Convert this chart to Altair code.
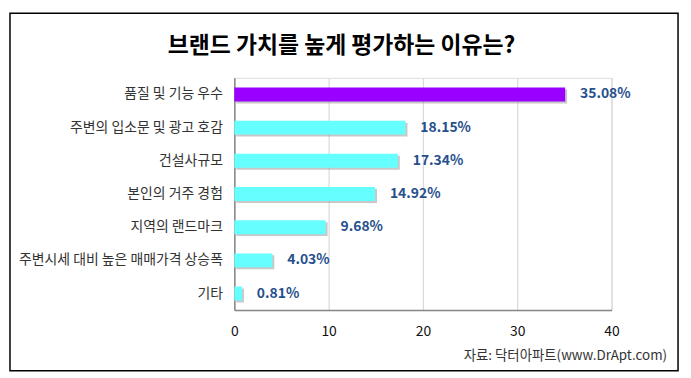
import altair as alt
import pandas as pd

categories = ["품질 및 기능 우수", "주변의 입소문 및 광고 호감", "건설사규모", "본인의 거주 경험",
              "지역의 랜드마크", "주변시세 대비 높은 매매가격 상승폭", "기타"]
values = [35.08, 18.15, 17.34, 14.92, 9.68, 4.03, 0.81]
highlight = [True, False, False, False, False, False, False]
title_text = "브랜드 가치를 높게 평가하는 이유는?"
source_text = "자료: 닥터아파트(www.DrApt.com)"

df = pd.DataFrame({"cat": categories, "val": values, "hl": highlight})
df["label"] = df["val"].map(lambda v: f"{v:.2f}%")

FONT = "Noto Sans CJK KR"
W, H = 380, 234

y_enc = alt.Y("cat:N", sort=categories, title=None,
              scale=alt.Scale(paddingInner=0.58, paddingOuter=0.29),
              axis=alt.Axis(labelFont=FONT, labelFontSize=14, labelColor="#333333",
                            labelPadding=12, labelLimit=0, ticks=False,
                            domainColor="#888888", domainWidth=1.5))
x_enc = alt.X("val:Q", title=None,
              scale=alt.Scale(domain=[0, 40]),
              axis=alt.Axis(values=[0, 10, 20, 30, 40], labelFont=FONT, labelFontSize=14,
                            labelColor="#111111", labelPadding=15, labelFlush=False,
                            ticks=False, gridColor="#d9d9d9", gridWidth=1.2,
                            domainColor="#888888", domainWidth=1.5))

base = alt.Chart(df)

shadow = base.mark_bar(color="#9a9a9a", opacity=0.55, xOffset=2, yOffset=2).encode(
    x=x_enc, y=y_enc)

bars = base.mark_bar().encode(
    x=alt.X("val:Q"), y=alt.Y("cat:N", sort=categories),
    color=alt.Color("hl:N", scale=alt.Scale(domain=[True, False],
                                            range=["#9900ff", "#66ffff"]), legend=None))

labels = base.mark_text(align="left", baseline="middle", dx=15, font=FONT,
                        fontSize=14, fontWeight="bold", color="#264f8c").encode(
    x=alt.X("val:Q"), y=alt.Y("cat:N", sort=categories), text="label:N")

one = alt.Data(values=[{"t": title_text, "s": source_text}])

title = alt.Chart(one).mark_text(font=FONT, fontSize=23, fontWeight="bold",
                                 align="center", baseline="middle", color="#000000").encode(
    x=alt.value(108), y=alt.value(-32), text="t:N")

source = alt.Chart(one).mark_text(font=FONT, fontSize=13.5, align="right",
                                  baseline="middle", color="#333333").encode(
    x=alt.value(436), y=alt.value(280), text="s:N")

frame = alt.Chart(one).mark_rect(fill=None, stroke="#000000", strokeWidth=1.5).encode(
    x=alt.value(-226), x2=alt.value(447), y=alt.value(-65), y2=alt.value(295))

chart = alt.layer(frame, shadow, bars, labels, title, source).properties(
    width=W, height=H,
    padding={"left": 228, "top": 69, "right": 72, "bottom": 64},
    autosize=alt.AutoSizeParams(type="none"),
).configure_view(stroke=None).configure(background="#ffffff")

chart.save("out.html", embed_options={"renderer": "svg", "actions": False})
